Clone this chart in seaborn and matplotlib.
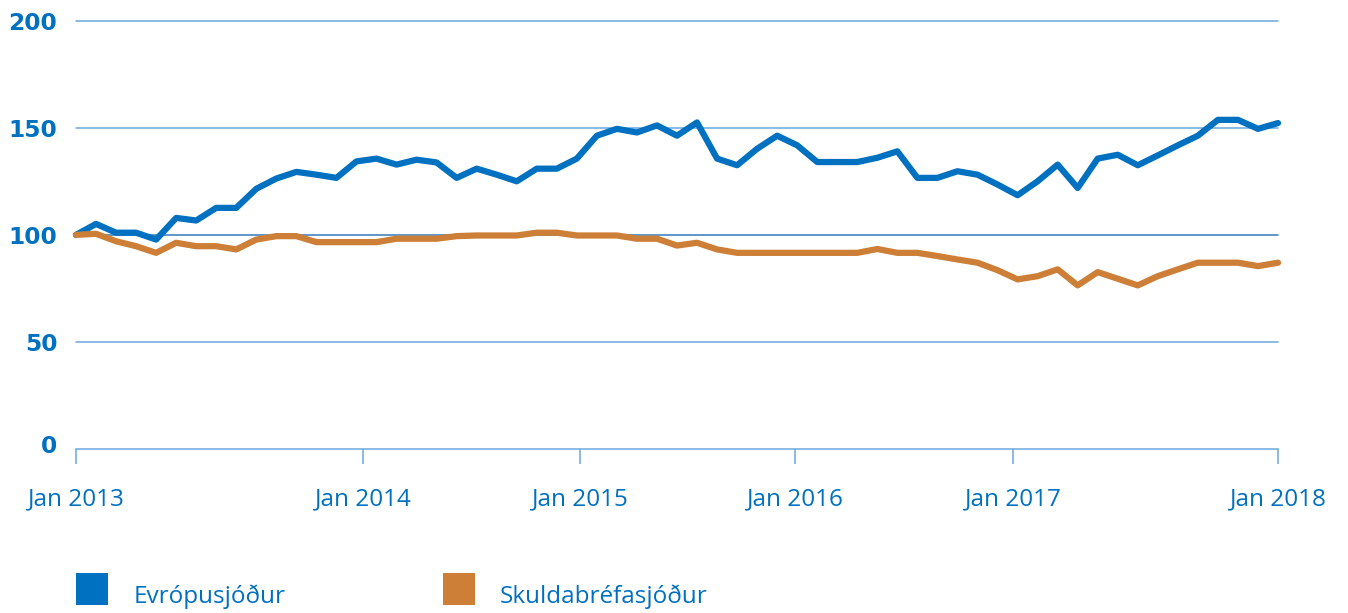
import numpy as np
import pandas as pd
import matplotlib
matplotlib.use("Agg")
import matplotlib.pyplot as plt
from matplotlib.patches import Rectangle
from matplotlib.transforms import ScaledTranslation
import seaborn as sns

# ---------------- data ----------------
series_names = ["Evrópusjóður", "Skuldabréfasjóður"]

evropusjodur = [
    100.0, 105.1, 101.0, 101.0, 97.8, 107.9, 106.7, 112.6, 112.6, 121.5,
    126.3, 129.4, 128.1, 126.6, 134.3, 135.6, 132.8, 135.1, 133.8, 126.6,
    130.9, 128.1, 125.0, 130.9, 130.9, 135.6, 146.3, 149.5, 147.8, 151.1,
    146.3, 152.5, 135.6, 132.5, 140.2, 146.3, 141.8, 134.0, 134.0, 134.0,
    136.0, 139.0, 126.6, 126.6, 129.7, 128.1, 123.5, 118.5, 125.0, 132.8,
    121.9, 135.6, 137.4, 132.5, 137.1, 141.8, 146.3, 153.7, 153.7, 149.5,
    152.2,
]

skuldabrefasjodur = [
    100.0, 100.5, 97.0, 94.7, 91.6, 96.3, 94.7, 94.7, 93.2, 97.8,
    99.4, 99.4, 96.6, 96.6, 96.6, 96.6, 98.2, 98.2, 98.2, 99.4,
    99.7, 99.7, 99.7, 101.0, 101.0, 99.7, 99.7, 99.7, 98.2, 98.2,
    95.0, 96.3, 93.2, 91.6, 91.6, 91.6, 91.6, 91.6, 91.6, 91.6,
    93.4, 91.6, 91.6, 90.1, 88.5, 87.0, 83.5, 79.2, 80.7, 83.9,
    76.4, 82.6, 79.5, 76.4, 80.7, 83.9, 87.0, 87.0, 87.0, 85.4,
    87.0,
]

x_tick_labels = ["Jan 2013", "Jan 2014", "Jan 2015", "Jan 2016", "Jan 2017", "Jan 2018"]
y_ticks = [0, 50, 100, 150, 200]

# ---------------- layout / style ----------------
W, H = 1348, 613
BLUE = "#0070c0"
ORANGE = "#cd7f37"
GRID = "#6aa8de"
GRID_BASE = "#3479bd"
x_tick_pos = [0, 14.33, 25.16, 35.9, 46.78, 60]  # where the labels sit in the reference

n = len(evropusjodur)
df = pd.DataFrame({
    "month": np.concatenate([np.arange(n), np.arange(n)]),
    "value": evropusjodur + skuldabrefasjodur,
    "series": [series_names[0]] * n + [series_names[1]] * n,
})

sns.set_theme(style="white")
plt.rcParams["font.family"] = ["Open Sans", "DejaVu Sans"]

fig = plt.figure(figsize=(W / 100, H / 100), dpi=100)
ax = fig.add_axes([76 / W, (H - 449) / H, (1278 - 76) / W, (449 - 20.7) / H])

sns.lineplot(data=df, x="month", y="value", hue="series",
             palette=[BLUE, ORANGE], hue_order=series_names,
             linewidth=4.5, legend=False, ax=ax)
for ln in ax.lines:
    ln.set_clip_on(False)
    ln.set_solid_joinstyle("round")
    ln.set_solid_capstyle("round")
    ln.set_zorder(5)

ax.set_xlim(0, n - 1)
ax.set_ylim(0, 200)
ax.set_xlabel("")
ax.set_ylabel("")

# grid lines
for v in y_ticks[1:]:
    ax.axhline(v, color=GRID_BASE if v == 100 else GRID, lw=1.1, zorder=1, clip_on=False)

for s in ["top", "right", "left"]:
    ax.spines[s].set_visible(False)
ax.spines["bottom"].set_color(GRID)
ax.spines["bottom"].set_linewidth(1.1)

ax.set_yticks(y_ticks)
ax.set_yticklabels([str(v) for v in y_ticks], fontsize=16.8, fontweight="bold",
                   color=BLUE, family="DejaVu Sans")
ax.tick_params(axis="y", length=0, pad=13.5)
for lbl in ax.get_yticklabels():
    if lbl.get_text() == "0":
        lbl.set_transform(lbl.get_transform() + ScaledTranslation(0, 5 / 100, fig.dpi_scale_trans))

ax.set_xticks(x_tick_pos)
ax.set_xticklabels(x_tick_labels, fontsize=17.5, color=BLUE)
ax.tick_params(axis="x", direction="out", length=10.8, width=1.1, color=GRID,
               pad=16.5, bottom=True)

# legend
colors = [BLUE, ORANGE]
sq_x = [76, 443]
txt_x = [134, 500]
for name, c, sx, tx in zip(series_names, colors, sq_x, txt_x):
    fig.add_artist(Rectangle((sx / W, (H - 605) / H), 32 / W, 32 / H,
                             transform=fig.transFigure, facecolor=c, edgecolor="none"))
    fig.text(tx / W, (H - 597) / H, name, fontsize=17.5, color=BLUE,
             va="center", ha="left")

fig.savefig("out.png", dpi=100)
